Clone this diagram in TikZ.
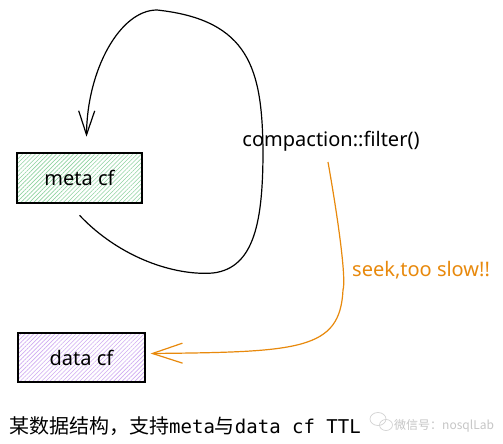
\documentclass[tikz,border=0pt]{standalone}
\usepackage{fontspec}
\setmainfont{Noto Sans}
\newfontfamily\cjk{Noto Sans CJK SC}
\newfontfamily\monof{DejaVu Sans Mono}
\usetikzlibrary{arrows.meta,patterns.meta}
\definecolor{greenhatch}{HTML}{8FD3A0}
\definecolor{purplehatch}{HTML}{CFAAF2}
\definecolor{orangeline}{HTML}{E8890C}
\tikzset{
  cfbox/.style={draw=black, line width=1.2pt, minimum width=125pt, minimum height=50pt, inner sep=0pt},
  loopline/.style={draw=black, line width=1.2pt, -{Straight Barb[length=24pt,width=16pt,line width=1.2pt]}},
  seekline/.style={draw=orangeline, line width=1.2pt, -{Straight Barb[length=30pt,width=20pt,line width=1.2pt]}},
  lbl/.style={font=\fontsize{20}{24}\selectfont, inner sep=0pt}
}
\begin{document}
\begin{tikzpicture}[x=1pt,y=-1pt]
\useasboundingbox (0,0) rectangle (503,444);
\fill[white] (0,0) rectangle (503,444);
% boxes
\node[cfbox, pattern={Lines[angle=45,distance=3pt,line width=0.6pt]}, pattern color=greenhatch] (meta) at (79.5,178) {};
\node[lbl] (metatxt) at (meta.center) {meta cf};
\node[cfbox, minimum width=127pt, minimum height=49pt, pattern={Lines[angle=45,distance=3pt,line width=0.6pt]}, pattern color=purplehatch] (data) at (81.5,357.5) {};
\node[lbl] (datatxt) at (data.center) {data cf};
% labels
\node[lbl] (filter) at (331,141) {compaction::filter()};
\node[lbl, text=orangeline, anchor=west] (seek) at (352,270) {seek,too slow!!};
% self loop
\coordinate (loopstart) at ([yshift=-12pt]meta.south);
\coordinate (loopend) at ([xshift=7pt,yshift=16pt]meta.north);
\draw[loopline] (loopstart) .. controls (120,258) and (175,276) .. (213,273)
  .. controls (255,268) and (263,220) .. (263,150)
  .. controls (262,70) and (250,20) .. (157,10)
  .. controls (120,10) and (87,70) .. (loopend);
% seek arrow
\coordinate (seekstart) at (328,162);
\coordinate (seekend) at ([xshift=5pt,yshift=4pt]data.east);
\draw[seekline] (seekstart) .. controls (340,230) and (346,280) .. (343,290)
  .. controls (340,350) and (300,352) .. (seekend);
% caption
\node[anchor=base west, inner sep=0pt, font=\fontsize{19}{22}\selectfont] (caption) at (9,433)
  {{\cjk\fontsize{20}{22}\selectfont 某数据结构，支持}{\monof meta}{\cjk\fontsize{20}{22}\selectfont 与}{\monof data cf TTL}};
% watermark
\draw[gray!35, line width=0.7pt] (378,419) ellipse (8pt and 6.5pt);
\draw[gray!35, line width=0.7pt] (386,425) ellipse (6.5pt and 5.5pt);
\node[anchor=base west, inner sep=0pt, text=gray!45, font=\cjk\fontsize{12}{14}\selectfont] (wm) at (394,429) {微信号：nosqlLab};
\end{tikzpicture}
\end{document}
